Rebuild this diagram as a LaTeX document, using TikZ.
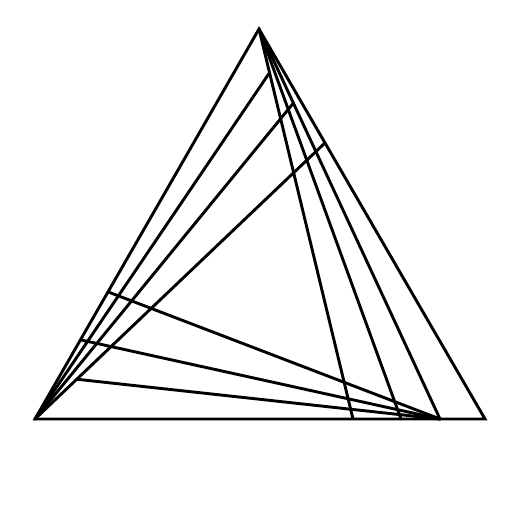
\documentclass[tikz,border=0pt]{standalone}
\usetikzlibrary{calc}
\begin{document}
\begin{tikzpicture}[x=1pt,y=-1pt,line width=2.9pt,
  edge/.style={draw=black,line cap=round},
  frame/.style={draw=black,line join=miter}]
\useasboundingbox[fill=white] (0,0) rectangle (512,512);
\coordinate (A) at (259,29);
\coordinate (B) at (35,419);
\coordinate (C) at (485,419);
\coordinate (D1) at (353,419);
\coordinate (D2) at (401,419);
\coordinate (D3) at (440,419);
\coordinate (E1) at ($(A)!0.112!(D1)$);
\coordinate (E2) at ($(A)!0.19!(D3)$);
\coordinate (E3) at ($(A)!0.292!(C)$);
\coordinate (F1) at ($(A)!0.674!(B)$);
\coordinate (F2) at ($(A)!0.797!(B)$);
\coordinate (F3) at ($(B)!0.144!(E3)$);
\draw[edge] (A) -- (D1);
\draw[edge] (A) -- (D2);
\draw[edge] (A) -- (D3);
\draw[edge] (B) -- (E1);
\draw[edge] (B) -- (E2);
\draw[edge] (B) -- (E3);
\draw[edge] (D3) -- (F1);
\draw[edge] (D3) -- (F2);
\draw[edge] (D3) -- (F3);
\draw[frame] (A) -- (B) -- (C) -- cycle;
\end{tikzpicture}
\end{document}
